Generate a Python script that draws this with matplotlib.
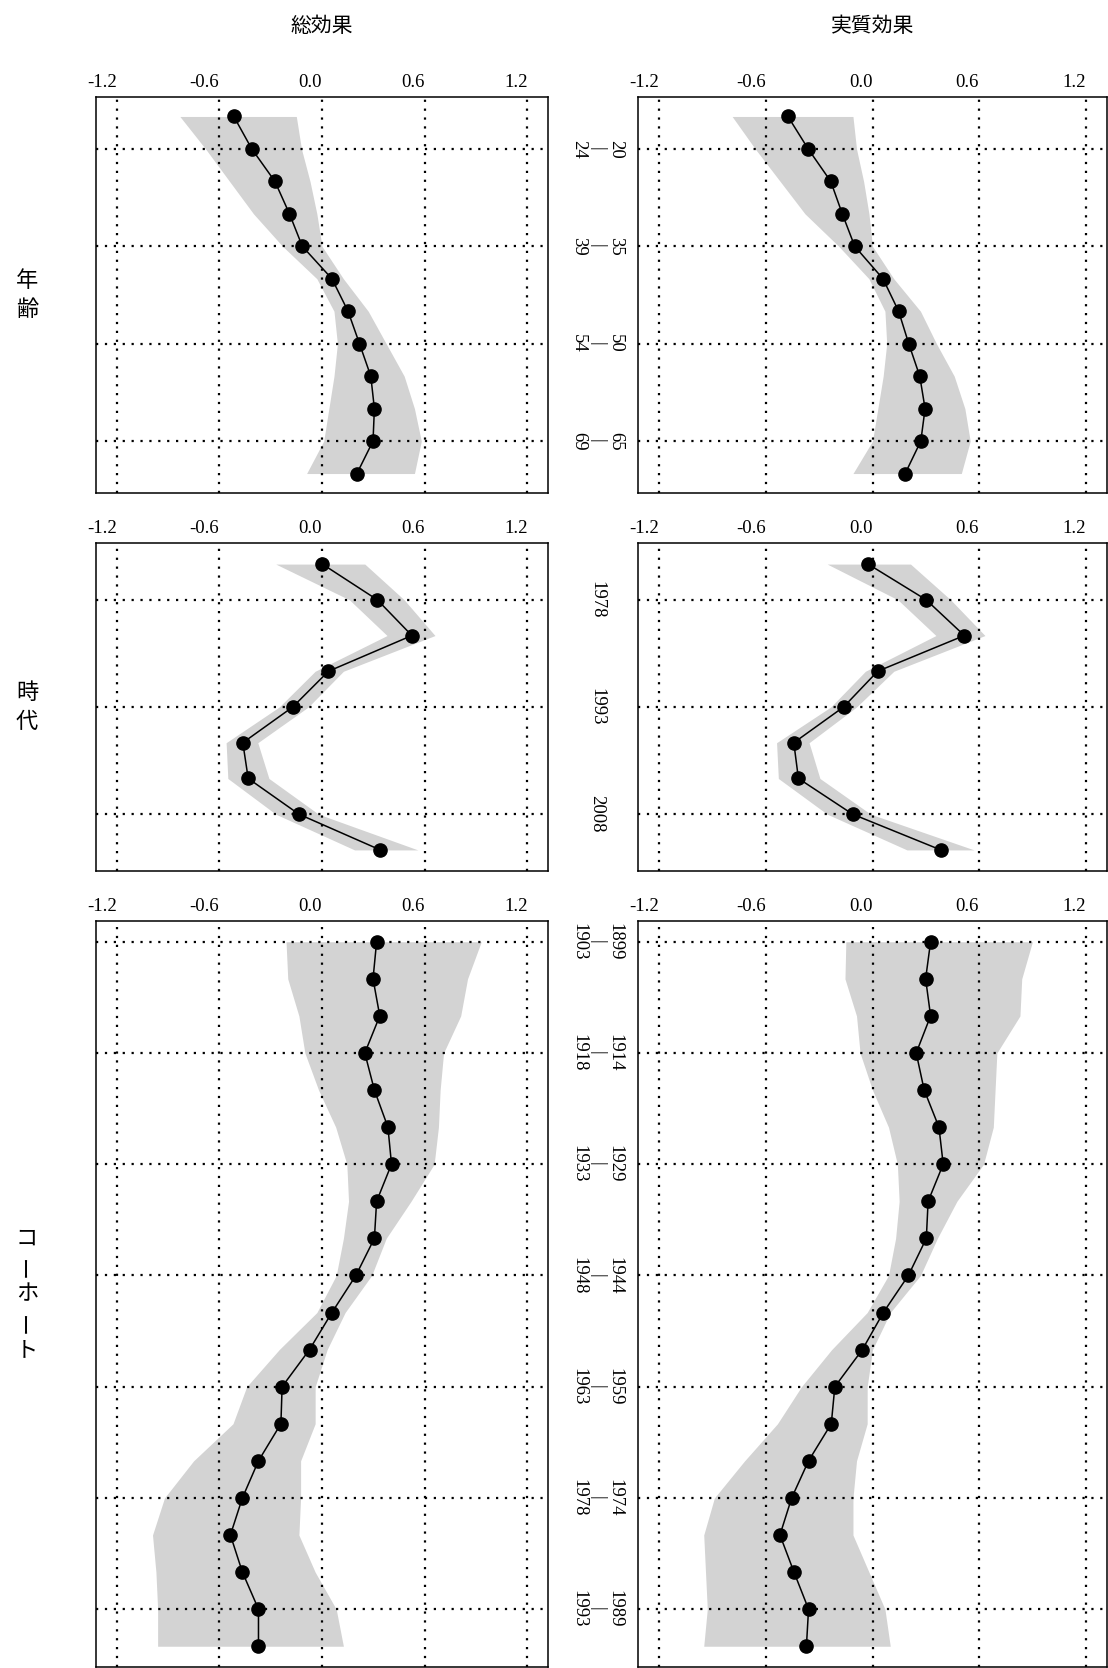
import matplotlib
matplotlib.use("Agg")
import matplotlib.pyplot as plt
import numpy as np

# 年齢 (15-19 ... 70-74)
age_start = [15, 20, 25, 30, 35, 40, 45, 50, 55, 60, 65, 70]
age_total = [-0.515, -0.41, -0.275, -0.19, -0.115, 0.058, 0.152, 0.219, 0.285, 0.306, 0.298, 0.204]
age_total_lo = [-0.83, -0.68, -0.54, -0.40, -0.23, -0.03, 0.07, 0.09, 0.07, 0.04, 0.01, -0.09]
age_total_hi = [-0.15, -0.12, -0.07, -0.03, 0.0, 0.125, 0.27, 0.375, 0.48, 0.54, 0.58, 0.54]
age_direct = [-0.476, -0.362, -0.235, -0.17, -0.10, 0.059, 0.147, 0.204, 0.266, 0.296, 0.272, 0.184]
age_direct_lo = [-0.79, -0.66, -0.52, -0.38, -0.19, -0.02, 0.07, 0.08, 0.06, 0.03, 0.0, -0.11]
age_direct_hi = [-0.11, -0.09, -0.05, -0.02, 0.0, 0.12, 0.27, 0.36, 0.46, 0.52, 0.55, 0.50]

# 時代 (調査年)
period_years = [1973, 1978, 1983, 1988, 1993, 1998, 2003, 2008, 2013]
period_total = [0.002, 0.323, 0.525, 0.0375, -0.171, -0.4625, -0.431, -0.135, 0.34]
period_total_lo = [-0.27, 0.16, 0.38, -0.04, -0.25, -0.56, -0.55, -0.27, 0.19]
period_total_hi = [0.25, 0.48, 0.66, 0.125, -0.08, -0.375, -0.31, -0.02, 0.56]
period_direct = [-0.025, 0.302, 0.517, 0.029, -0.163, -0.443, -0.417, -0.112, 0.384]
period_direct_lo = [-0.255, 0.143, 0.357, -0.04, -0.235, -0.54, -0.53, -0.255, 0.194]
period_direct_hi = [0.214, 0.44, 0.633, 0.12, -0.09, -0.357, -0.296, -0.01, 0.572]

# コーホート (出生年 1899-1903 ... 1994-1998)
cohort_start = [1899, 1904, 1909, 1914, 1919, 1924, 1929, 1934, 1939, 1944,
                1949, 1954, 1959, 1964, 1969, 1974, 1979, 1984, 1989, 1994]
cohort_total = [0.319, 0.298, 0.3375, 0.25, 0.306, 0.385, 0.406, 0.319, 0.306, 0.198,
                0.058, -0.073, -0.233, -0.24, -0.371, -0.465, -0.535, -0.465, -0.371, -0.371]
cohort_total_lo = [-0.21, -0.20, -0.135, -0.10, -0.02, 0.08, 0.145, 0.155, 0.125, 0.083,
                   -0.03, -0.25, -0.44, -0.52, -0.75, -0.92, -0.99, -0.97, -0.96, -0.96]
cohort_total_hi = [0.93, 0.85, 0.81, 0.71, 0.69, 0.68, 0.655, 0.52, 0.375, 0.29,
                   0.135, 0.03, -0.04, -0.04, -0.125, -0.125, -0.135, -0.04, 0.083, 0.125]
cohort_direct = [0.327, 0.299, 0.327, 0.246, 0.291, 0.374, 0.398, 0.313, 0.303, 0.202,
                 0.061, -0.057, -0.212, -0.232, -0.36, -0.455, -0.521, -0.442, -0.36, -0.372]
cohort_direct_lo = [-0.15, -0.155, -0.09, -0.07, 0.0, 0.09, 0.14, 0.15, 0.13, 0.09,
                    -0.03, -0.23, -0.40, -0.535, -0.72, -0.89, -0.95, -0.94, -0.93, -0.95]
cohort_direct_hi = [0.90, 0.84, 0.83, 0.70, 0.69, 0.68, 0.625, 0.475, 0.365, 0.27,
                    0.10, 0.0, -0.03, -0.03, -0.09, -0.11, -0.11, -0.02, 0.07, 0.10]

col_titles = ["総効果", "実質効果"]
row_titles = ["年齢", "時代", "コーホート"]
x_ticks = [-1.2, -0.6, 0.0, 0.6, 1.2]
x_tick_labels = ["-1.2", "-0.6", "0.0", "0.6", "1.2"]

age_labels = [f"{a}\n|\n{a + 4}" for a in age_start]
period_labels = [str(y) for y in period_years]
cohort_labels = [f"{c}\n|\n{c + 4}" for c in cohort_start]

rows = [
    dict(labels=age_labels, every=slice(1, None, 3),
         total=(age_total, age_total_lo, age_total_hi),
         direct=(age_direct, age_direct_lo, age_direct_hi)),
    dict(labels=period_labels, every=slice(1, None, 3),
         total=(period_total, period_total_lo, period_total_hi),
         direct=(period_direct, period_direct_lo, period_direct_hi)),
    dict(labels=cohort_labels, every=slice(0, None, 3),
         total=(cohort_total, cohort_total_lo, cohort_total_hi),
         direct=(cohort_direct, cohort_direct_lo, cohort_direct_hi)),
]

W, H = 1108, 1668
fig = plt.figure(figsize=(W / 100, H / 100), dpi=100)

serif = ["Liberation Serif", "DejaVu Serif"]
jp = ["Noto Sans CJK JP", "DejaVu Sans"]

# panel boxes in pixels: (left, right) per column, (top, bottom) per row
cols_px = [(96, 548), (638, 1107)]
rows_px = [(97, 493), (543, 871), (921, 1667)]
y_pad = [0.6, 0.59, 0.56]

for r, row in enumerate(rows):
    top, bot = rows_px[r]
    n = len(row["labels"])
    pos = np.arange(1, n + 1)
    for c, key in enumerate(["total", "direct"]):
        left, right = cols_px[c]
        ax = fig.add_axes([left / W, 1 - bot / H, (right - left) / W, (bot - top) / H])
        est, lo, hi = row[key]
        ax.fill_betweenx(pos, lo, hi, color="#d3d3d3", linewidth=0, zorder=1)
        ax.plot(est, pos, color="black", linewidth=1.1, marker="o",
                markersize=9.5, zorder=3)

        ax.set_xlim(-1.32, 1.32)
        ax.set_ylim(n + y_pad[r], 1 - y_pad[r])

        ax.xaxis.tick_top()
        ax.set_xticks(x_ticks)
        ax.set_xticklabels(x_tick_labels, ha="right", fontfamily=serif, fontsize=13.5)
        ax.tick_params(axis="x", length=0, pad=4)

        ax.set_yticks(pos[row["every"]])
        if c == 1:
            ax.set_yticklabels(row["labels"][row["every"]], rotation=-90,
                               ha="center", va="center", multialignment="center",
                               linespacing=1.1, fontfamily=serif, fontsize=13.5)
            ax.tick_params(axis="y", length=0, pad=29.5)
        else:
            ax.set_yticklabels([])
            ax.tick_params(axis="y", length=0)

        ax.set_axisbelow("line")
        ax.grid(True, color="black", linestyle=(0, (1, 3)), linewidth=1.6)
        for sp in ax.spines.values():
            sp.set_linewidth(1.1)

# column headers
for c, title in enumerate(col_titles):
    left, right = cols_px[c]
    fig.text((left + right) / 2 / W, 1 - 26 / H, title, ha="center", va="center",
             fontfamily=jp, fontsize=15)

# row headers written vertically, one character per line
for r, title in enumerate(row_titles):
    top, bot = rows_px[r]
    mid = (top + bot) / 2
    step = 29 if len(title) < 3 else 28
    start = mid - step * (len(title) - 1) / 2
    for i, ch in enumerate(title):
        fig.text(27 / W, 1 - (start + i * step) / H, ch, ha="center", va="center",
                 fontfamily=jp, fontsize=16, rotation=90 if ch == "ー" else 0)

fig.savefig("out.png", dpi=100)
